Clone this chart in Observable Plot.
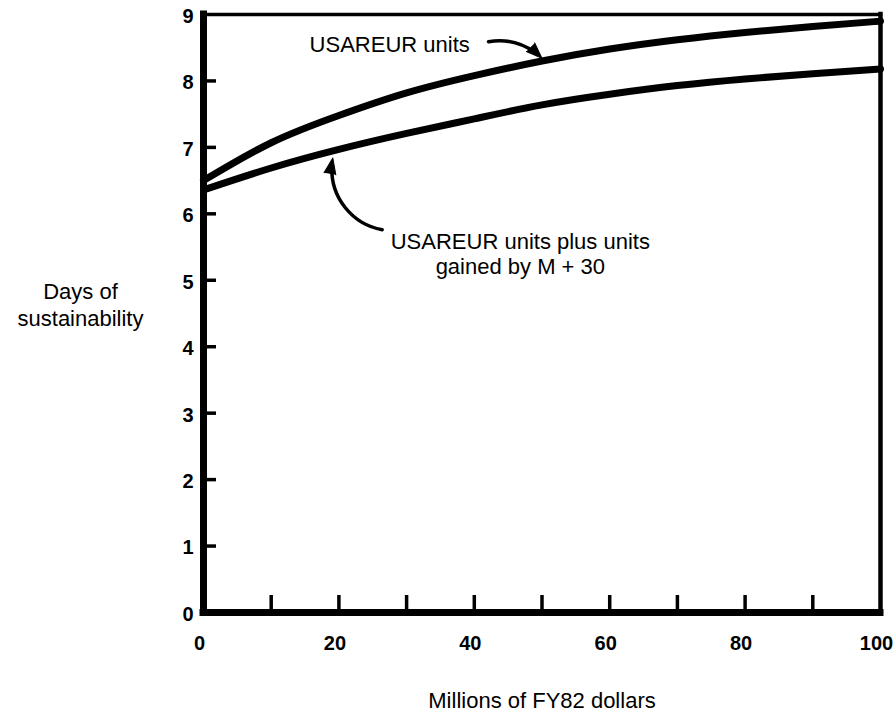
<!DOCTYPE html>
<html>
<head>
<meta charset="utf-8">
<script src="https://cdn.jsdelivr.net/npm/d3@7"></script>
<script src="https://cdn.jsdelivr.net/npm/@observablehq/plot@0.6"></script>
<style>
  html, body { margin: 0; padding: 0; background: #fff; }
  #chart svg { display: block; }
</style>
</head>
<body>
<div id="chart"></div>
<script>
// ---- data ----
const dollars = [0, 10, 20, 30, 40, 50, 60, 70, 80, 90, 100];
const usareurUnits   = [6.50, 7.07, 7.48, 7.82, 8.08, 8.30, 8.48, 8.62, 8.73, 8.82, 8.90];
const usareurPlusM30 = [6.36, 6.69, 6.97, 7.21, 7.43, 7.64, 7.80, 7.93, 8.03, 8.11, 8.18];

const yTickLabels = [0, 1, 2, 3, 4, 5, 6, 7, 8, 9];
const yInnerTicks = [1, 2, 3, 4, 5, 6, 7, 8];
const xTickLabels = [0, 20, 40, 60, 80, 100];
const xInnerTicks = [10, 20, 30, 40, 50, 60, 70, 80, 90];

const seriesLabels = ["USAREUR units", "USAREUR units plus units\ngained by M + 30"];
const yAxisTitle = "Days of\nsustainability";
const xAxisTitle = "Millions of FY82 dollars";

// annotation anchors, in data units
const labelX = [27.5, 46.8];
const labelY = [8.55, 5.40];
const arrowFromX = [42.1, 26.4];
const arrowFromY = [8.59, 5.76];
const arrowToX = [50, 19.1];
const arrowToY = [8.34, 6.84];
const arrowBend = [27, 45];

// ---- layout ----
const W = 894, H = 719;
const mL = 203, mR = 14, mT = 14, mB = 107;
const plotW = W - mL - mR, plotH = H - mT - mB;
const FONT = "'Liberation Sans', Arial, Helvetica, sans-serif";

const rows = (ys) => dollars.map((x, i) => ({x, y: ys[i]}));
const labels = seriesLabels.map((t, i) => ({t, x: labelX[i], y: labelY[i]}));
const arrow = (i) => [{x1: arrowFromX[i], y1: arrowFromY[i], x2: arrowToX[i], y2: arrowToY[i]}];

// direction (screen degrees) in which arrow i arrives at its tip
const px = (x) => mL + (x / 100) * plotW;
const py = (y) => mT + ((9 - y) / 9) * plotH;
function endRotate(i) {
  const a = Math.atan2(py(arrowToY[i]) - py(arrowFromY[i]), px(arrowToX[i]) - px(arrowFromX[i])) * 180 / Math.PI;
  return a + arrowBend[i] + 90;
}
const heads = seriesLabels.map((t, i) => ({x: arrowToX[i], y: arrowToY[i], rot: endRotate(i)}));

const chart = Plot.plot({
  width: W, height: H,
  marginLeft: mL, marginRight: mR, marginTop: mT, marginBottom: mB,
  style: {fontFamily: FONT, background: "#fff", color: "#000"},
  x: {domain: [0, 100], axis: null},
  y: {domain: [0, 9], axis: null},
  marks: [
    // frame
    Plot.ruleY([9], {stroke: "#000", strokeWidth: 3.5, strokeLinecap: "square"}),
    Plot.ruleX([100], {stroke: "#000", strokeWidth: 4.5, strokeLinecap: "square"}),
    Plot.ruleX([0], {stroke: "#000", strokeWidth: 7, strokeLinecap: "square"}),
    Plot.ruleY([0], {stroke: "#000", strokeWidth: 7, strokeLinecap: "square"}),
    // inward ticks
    Plot.tickY(yInnerTicks, {y: d => d, stroke: "#000", strokeWidth: 3.5, insetRight: plotW - 13}),
    Plot.tickX(xInnerTicks, {x: d => d, stroke: "#000", strokeWidth: 3.5, insetTop: plotH - 17}),
    // tick labels
    Plot.text(yTickLabels, {y: d => d, text: d => String(d), frameAnchor: "left", dx: -10, dy: 2,
      textAnchor: "end", fontSize: 20, fontWeight: "bold", fill: "#000"}),
    Plot.text(xTickLabels, {x: d => d, text: d => String(d), frameAnchor: "bottom", dx: -4, dy: 37,
      textAnchor: "middle", fontSize: 20, fontWeight: "bold", fill: "#000"}),
    // series
    Plot.line(rows(usareurUnits), {x: "x", y: "y", curve: "natural", stroke: "#000", strokeWidth: 7}),
    Plot.line(rows(usareurPlusM30), {x: "x", y: "y", curve: "natural", stroke: "#000", strokeWidth: 7}),
    // annotations
    Plot.text(labels, {x: "x", y: "y", text: "t", fontSize: 22, lineHeight: 1.14, fill: "#000", textAnchor: "middle"}),
    Plot.arrow(arrow(0), {x1: "x1", y1: "y1", x2: "x2", y2: "y2", bend: arrowBend[0], stroke: "#000", strokeWidth: 3.5, headLength: 0, insetEnd: 9}),
    Plot.arrow(arrow(1), {x1: "x1", y1: "y1", x2: "x2", y2: "y2", bend: arrowBend[1], stroke: "#000", strokeWidth: 3.5, headLength: 0, insetEnd: 9}),
    Plot.vector(heads, {x: "x", y: "y", rotate: "rot", shape: "spike", anchor: "end", length: 16, r: 6,
      fill: "#000", stroke: "#000", strokeWidth: 1}),
    // axis titles
    Plot.text([yAxisTitle], {frameAnchor: "left", y: [4.65], text: d => d, dx: -123, fontSize: 22, lineHeight: 1.27, fill: "#000", textAnchor: "middle"}),
    Plot.text([xAxisTitle], {frameAnchor: "bottom", x: [50], text: d => d, dy: 95, fontSize: 22, fill: "#000", textAnchor: "middle"})
  ]
});
document.getElementById("chart").appendChild(chart);
</script>
</body>
</html>
